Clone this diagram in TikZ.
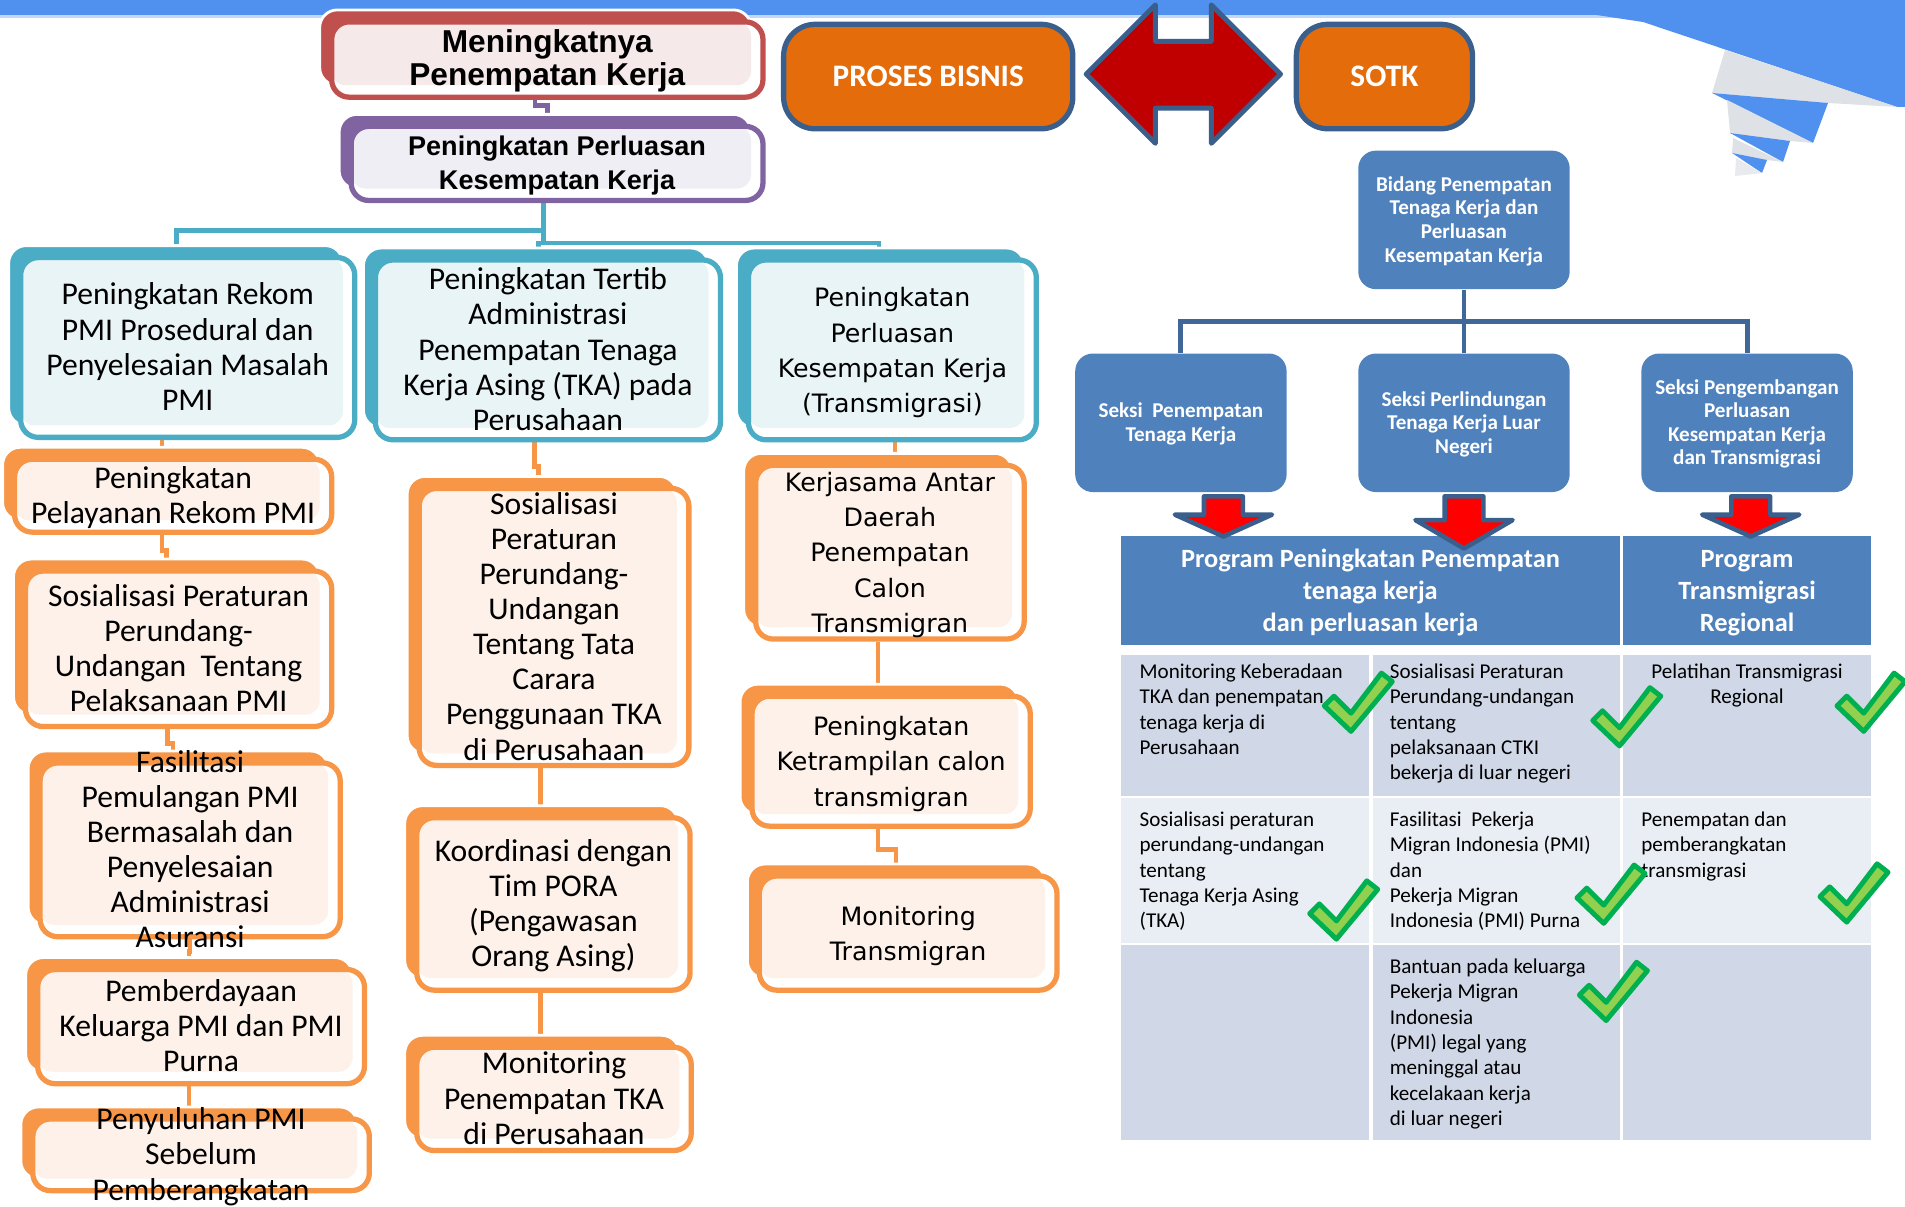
\documentclass[tikz,border=0pt]{standalone}
\usepackage{fontspec}
\setmainfont{Carlito}
\newfontfamily\dejavu{DejaVu Sans}
\newfontfamily\liber{Liberation Sans}
\usetikzlibrary{calc,fit,shadows}

\definecolor{bandblue}{RGB}{80,144,238}
\definecolor{fold}{RGB}{222,225,230}
\definecolor{tealc}{RGB}{75,172,198}
\definecolor{teallt}{RGB}{233,244,247}
\definecolor{orangec}{RGB}{247,150,70}
\definecolor{orangelt}{RGB}{253,241,233}
\definecolor{redc}{RGB}{192,80,77}
\definecolor{redlt}{RGB}{246,233,233}
\definecolor{purplec}{RGB}{128,100,162}
\definecolor{purplelt}{RGB}{240,238,245}
\definecolor{procorange}{RGB}{228,108,10}
\definecolor{steel}{RGB}{58,95,140}
\definecolor{darkred}{RGB}{192,0,0}
\definecolor{sotkblue}{RGB}{79,129,189}
\definecolor{rowdark}{RGB}{208,216,232}
\definecolor{rowlight}{RGB}{233,237,244}
\definecolor{treeline}{RGB}{63,103,151}
\definecolor{tickfill}{RGB}{146,208,80}
\definecolor{tickline}{RGB}{0,176,80}

\pgfdeclarelayer{behind}
\pgfsetlayers{behind,main}

\newcommand\cardtext[1]{\smash{\raisebox{-.35em}{\begin{tabular}{@{}c@{}}#1\end{tabular}}}}
\newcommand\celltext[1]{\begin{tabular}[t]{@{}l@{}}#1\end{tabular}}
\newcommand\cellmid[1]{\begin{tabular}[t]{@{}c@{}}#1\end{tabular}}

\tikzset{
  card/.style 2 args={draw=#1, fill=white, line width=1.5pt, rounded corners=5pt, inner sep=0pt,
    general shadow={fill=#1, draw=white, line width=.8pt, shadow xshift=-3.4pt, shadow yshift=3.4pt},
    path picture={\fill[#2, rounded corners=4pt] (path picture bounding box.north west)
      rectangle ([shift={(-3.4pt,3.4pt)}]path picture bounding box.south east);}},
  calib/.style={font=\fontsize{9}{10}\selectfont},
  verd/.style={font=\dejavu\fontsize{7.2}{10}\selectfont},
  headbox/.style={fill=procorange, draw=steel, line width=1.5pt, rounded corners=9pt, inner sep=0pt,
    text=white, font=\bfseries\fontsize{8.9}{10}\selectfont},
  sotk/.style={fill=sotkblue, rounded corners=5pt, inner sep=0pt, text=white,
    font=\bfseries\fontsize{6}{6.7}\selectfont},
  hdr/.style={fill=sotkblue, inner sep=0pt, text=white, font=\bfseries\fontsize{7.5}{9.1}\selectfont},
  cell/.style={fill=#1, inner sep=0pt},
  celltxt/.style={anchor=base west, inner sep=0pt, font=\fontsize{6}{7.2}\selectfont},
  olink/.style={draw=orangec, line width=1.3pt},
  tlink/.style={draw=tealc, line width=1.3pt},
  plink/.style={draw=purplec, line width=1.3pt},
  sline/.style={draw=treeline, line width=1.4pt},
  dblarrow/.style={fill=darkred, draw=steel, line width=1.4pt, line join=round},
  blockfill/.style={fill=red, draw=steel, line width=1.3pt, line join=round},
  tickmark/.style={fill=tickfill, draw=tickline, line width=1.4pt, line join=round},
  downblock/.pic={\path[blockfill] (-16,0) -- (16,0) -- (16,15) -- (40,15) -- (0,33)
    -- (-40,15) -- (-16,15) -- cycle;},
  okmark/.pic={\path[tickmark] (0,2) -- (-22,-19) -- (-14,-27) -- (0,-13) -- (25,-46)
    -- (34,-39) -- cycle;}
}

\begin{document}
\begin{tikzpicture}[x=0.12149mm, y=-0.12149mm]
  \useasboundingbox (0,0) rectangle (1568,993);

  % band and folded ribbon
  \fill[bandblue!35] (0,11) rectangle (1568,15);
  \fill[bandblue] (0,0) rectangle (1568,12);
  \begin{scope}[scale=0.8231]
    \fill[bandblue] (1590,14) -- (1643,22) -- (1897,107) -- (1905,107) -- (1905,14) -- cycle;
    \fill[fold] (1725,50) -- (1897,107) -- (1828,103) -- (1712,93) -- cycle;
    \fill[bandblue] (1712,93) -- (1828,103) -- (1813,143) -- cycle;
    \fill[fold] (1727,100) -- (1813,143) -- (1790,141) -- (1730,133) -- cycle;
    \fill[bandblue] (1730,133) -- (1790,141) -- (1783,162) -- cycle;
    \fill[fold] (1733,138) -- (1783,162) -- (1767,160) -- (1732,153) -- cycle;
    \fill[bandblue] (1732,153) -- (1767,160) -- (1762,173) -- cycle;
    \fill[fold!70] (1736,158) -- (1762,173) -- (1735,176) -- cycle;
  \end{scope}

  % proses bisnis - sotk
  \node[headbox, fit={(645,20) (883,106)}] (proses) {\cardtext{PROSES BISNIS}};
  \node[headbox, fit={(1067,20) (1212,106)}] (sotkbox) {\cardtext{SOTK}};
  \draw[dblarrow] (894,61) -- (951,4) -- (951,34) -- (997,34) -- (997,4) -- (1054,61)
    -- (997,118) -- (997,89) -- (951,89) -- (951,118) -- cycle;

  % goal and program
  \node[card={redc}{redlt}, fit={(273,18) (628,80)},
    font=\liber\bfseries\fontsize{9}{9.4}\selectfont] (goal) {\cardtext{Meningkatnya\\Penempatan Kerja}};
  \node[card={purplec}{purplelt}, fit={(289,104) (628,165)},
    font=\liber\bfseries\fontsize{7.7}{9.6}\selectfont] (prog) {\cardtext{Peningkatan Perluasan\\Kesempatan Kerja}};

  % activities
  \node[card={tealc}{teallt}, calib, fit={(17,212) (292,360)}] (rekom)
    {\cardtext{Peningkatan Rekom\\PMI Prosedural dan\\Penyelesaian Masalah\\PMI}};
  \node[card={tealc}{teallt}, calib, fit={(309,214) (593,362)}] (tertib)
    {\cardtext{Peningkatan Tertib\\Administrasi\\Penempatan Tenaga\\Kerja Asing (TKA) pada\\Perusahaan}};
  \node[card={tealc}{teallt}, verd, fit={(616,214) (853,362)}] (trans)
    {\cardtext{Peningkatan\\Perluasan\\Kesempatan Kerja\\(Transmigrasi)}};

  \node[card={orangec}{orangelt}, calib, fit={(12,378) (273,438)}] (pel)
    {\cardtext{Peningkatan\\Pelayanan Rekom PMI}};
  \node[card={orangec}{orangelt}, calib, fit={(21,470) (273,598)}] (sosp)
    {\cardtext{Sosialisasi Peraturan\\Perundang-\\Undangan\ \ Tentang\\Pelaksanaan PMI}};
  \node[card={orangec}{orangelt}, calib, fit={(33,628) (280,771)}] (fasil)
    {\cardtext{Fasilitasi\\Pemulangan PMI\\Bermasalah dan\\Penyelesaian\\Administrasi\\Asuransi}};
  \node[card={orangec}{orangelt}, calib, fit={(31,798) (300,892)}] (pemb)
    {\cardtext{Pemberdayaan\\Keluarga PMI dan PMI\\Purna}};
  \node[card={orangec}{orangelt}, calib, fit={(27,921) (304,980)}] (peny)
    {\cardtext{Penyuluhan PMI\\Sebelum\\Pemberangkatan}};

  \node[card={orangec}{orangelt}, calib, fit={(345,402) (567,630)}] (sostka)
    {\cardtext{Sosialisasi\\Peraturan\\Perundang-\\Undangan\\Tentang Tata\\Carara\\Penggunaan TKA\\di Perusahaan}};
  \node[card={orangec}{orangelt}, calib, fit={(343,673) (568,815)}] (koor)
    {\cardtext{Koordinasi dengan\\Tim PORA\\(Pengawasan\\Orang Asing)}};
  \node[card={orangec}{orangelt}, calib, fit={(343,862) (569,947)}] (montka)
    {\cardtext{Monitoring\\Penempatan TKA\\di Perusahaan}};

  \node[card={orangec}{orangelt}, verd, fit={(622,383) (843,526)}] (kerjas)
    {\cardtext{Kerjasama Antar\\Daerah\\Penempatan\\Calon\\Transmigran}};
  \node[card={orangec}{orangelt}, verd, fit={(619,573) (848,680)}] (ketr)
    {\cardtext{Peningkatan\\Ketrampilan calon\\transmigran}};
  \node[card={orangec}{orangelt}, verd, fit={(625,721) (870,815)}] (montr)
    {\cardtext{Monitoring\\Transmigran}};

  % connectors behind the cards
  \begin{pgfonlayer}{behind}
    \draw[plink] ($(goal.south)+(-10,0)$) |- ($(prog.north)+(-8,-15)$) -- ($(prog.north)+(-8,0)$);
    \draw[tlink] ($(prog.south)+(-11,0)$) |- ($(rekom.north)+(-9,-20)$) -- ($(rekom.north)+(-9,0)$);
    \draw[tlink] ($(prog.south)+(-11,25)$) -- ++(0,8) -| ($(trans.north)+(-11,0)$);
    \draw[tlink] ($(prog.south)+(-11,33)$) -| ($(tertib.north)+(-8,0)$);
    \draw[olink] ($(rekom.south)+(-21,0)$) -- ++(0,12) -| ($(pel.north)+(-8,0)$);
    \draw[olink] ($(pel.south)+(-9,0)$) -- ++(0,13) -| ($(sosp.north)+(-10,0)$);
    \draw[olink] ($(sosp.south)+(-9,0)$) -- ++(0,12) -| ($(fasil.north)+(-14,0)$);
    \draw[olink] (fasil.south) -- ++(0,10) -| ($(pemb.north)+(-10,0)$);
    \draw[olink] ($(pemb.south)+(-10,0)$) -- ($(peny.north)+(-10,0)$);
    \draw[olink] ($(tertib.south)+(-11,0)$) -- ++(0,20) -| ($(sostka.north)+(-13,0)$);
    \draw[olink] ($(sostka.south)+(-11,0)$) -- ($(koor.north)+(-10.5,0)$);
    \draw[olink] ($(koor.south)+(-10.5,0)$) -- ($(montka.north)+(-11,0)$);
    \draw[olink] ($(trans.south)+(2,0)$) -- ($(kerjas.north)+(4,0)$);
    \draw[olink] ($(kerjas.south)+(-10,0)$) -- ($(ketr.north)+(-11,0)$);
    \draw[olink] ($(ketr.south)+(-11,0)$) -- ++(0,17) -| ($(montr.north)+(-10,0)$);
  \end{pgfonlayer}

  % SOTK tree
  \node[sotk, fit={(1118,124) (1292,238)}] (bidang)
    {\cardtext{Bidang Penempatan\\Tenaga Kerja dan\\Perluasan\\Kesempatan Kerja}};
  \node[sotk, fit={(885,291) (1059,405)}] (seka) {\cardtext{Seksi\ \ Penempatan\\Tenaga Kerja}};
  \node[sotk, fit={(1118,291) (1292,405)}] (sekb) {\cardtext{Seksi Perlindungan\\Tenaga Kerja Luar\\Negeri}};
  \node[sotk, fit={(1351,291) (1525,405)}] (sekc)
    {\cardtext{Seksi Pengembangan\\Perluasan\\Kesempatan Kerja\\dan Transmigrasi}};
  \draw[sline] (bidang.south) -- (sekb.north);
  \draw[sline] (seka.north) |- ($(bidang.south)!.5!(sekb.north)$) -| (sekc.north);

  % program table
  \node[hdr, fit={(923,441) (1333,531)}] (hprog)
    {\cardtext{Program Peningkatan Penempatan\\tenaga kerja\\dan perluasan kerja}};
  \node[hdr, fit={(1336,441) (1540,531)}] (htrans) {\cardtext{Program\\Transmigrasi\\Regional}};

  \node[cell=rowdark, fit={(923,539) (1127,655)}] (c11) {};
  \node[cell=rowdark, fit={(1130,539) (1333,655)}] (c12) {};
  \node[cell=rowdark, fit={(1336,539) (1540,655)}] (c13) {};
  \node[cell=rowlight, fit={(923,657) (1127,776)}] (c21) {};
  \node[cell=rowlight, fit={(1130,657) (1333,776)}] (c22) {};
  \node[cell=rowlight, fit={(1336,657) (1540,776)}] (c23) {};
  \node[cell=rowdark, fit={(923,778) (1127,938)}] (c31) {};
  \node[cell=rowdark, fit={(1130,778) (1333,938)}] (c32) {};
  \node[cell=rowdark, fit={(1336,778) (1540,938)}] (c33) {};

  \node[celltxt] (t11) at ($(c11.north west)+(15,20)$)
    {\celltext{Monitoring Keberadaan\\TKA dan penempatan\\tenaga kerja di\\Perusahaan}};
  \node[celltxt] (t12) at ($(c12.north west)+(14,20)$)
    {\celltext{Sosialisasi Peraturan\\Perundang-undangan\\tentang\\pelaksanaan CTKI\\bekerja di luar negeri}};
  \node[celltxt, anchor=base] (t13) at ($(c13.north)+(0,20)$)
    {\cellmid{Pelatihan Transmigrasi\\Regional}};
  \node[celltxt] (t21) at ($(c21.north west)+(15,24)$)
    {\celltext{Sosialisasi peraturan\\perundang-undangan\\tentang\\Tenaga Kerja Asing\\(TKA)}};
  \node[celltxt] (t22) at ($(c22.north west)+(14,24)$)
    {\celltext{Fasilitasi\ \ Pekerja\\Migran Indonesia (PMI)\\dan\\Pekerja Migran\\Indonesia (PMI) Purna}};
  \node[celltxt] (t23) at ($(c23.north west)+(15,24)$)
    {\celltext{Penempatan dan\\pemberangkatan\\transmigrasi}};
  \node[celltxt] (t32) at ($(c32.north west)+(14,24)$)
    {\celltext{Bantuan pada keluarga\\Pekerja Migran\\Indonesia\\(PMI) legal yang\\meninggal atau\\kecelakaan kerja\\di luar negeri}};

  % block arrows from the sections
  \pic at ($(seka.south)+(35,3)$) {downblock};
  \pic[yscale=1.3] at ($(sekb.south)+(0,3)$) {downblock};
  \pic at ($(sekc.south)+(3,3)$) {downblock};

  % ticks
  \pic at (1112,600) {okmark};
  \pic at (1333,612) {okmark};
  \pic at (1534,600) {okmark};
  \pic at (1100,771) {okmark};
  \pic at (1320,758) {okmark};
  \pic at (1520,757) {okmark};
  \pic at (1322,838) {okmark};
\end{tikzpicture}
\end{document}
